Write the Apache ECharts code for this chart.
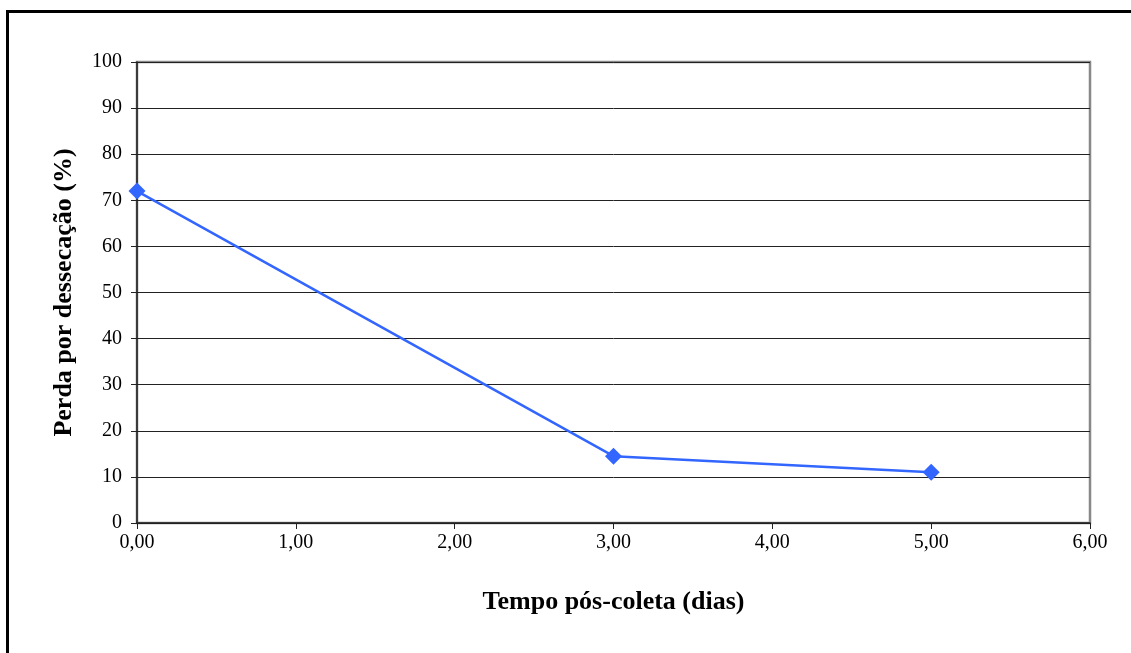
<!DOCTYPE html>
<html>
<head>
<meta charset="utf-8">
<script src="https://cdn.jsdelivr.net/npm/echarts@6/dist/echarts.min.js"></script>
<style>
  html, body { margin: 0; padding: 0; background: #fff; }
  #chart { width: 1131px; height: 653px; }
</style>
</head>
<body>
<div id="chart"></div>
<script>
// Days after collection and drying loss (%)
const days = [0, 3, 5];
const lossPercent = [72, 14.5, 11];
const xTitle = 'Tempo pós-coleta (dias)';
const yTitle = 'Perda por dessecação (%)';

const points = days.map((d, i) => [d, lossPercent[i]]);
const serif = '"Liberation Serif", "DejaVu Serif", serif';

const chart = echarts.init(document.getElementById('chart'), null, { renderer: 'canvas' });
chart.setOption({
  animation: false,
  backgroundColor: '#fff',
  textStyle: { fontFamily: serif },
  graphic: [{
    type: 'rect',
    shape: { x: 7.5, y: 11.5, width: 1140, height: 700 },
    style: { fill: 'none', stroke: '#000', lineWidth: 3 },
    silent: true
  }],
  grid: {
    left: 137, top: 62, right: 41, bottom: 130,
    show: true, borderColor: '#888', borderWidth: 2.5, backgroundColor: 'transparent'
  },
  xAxis: {
    type: 'value', min: 0, max: 6, interval: 1,
    name: xTitle, nameLocation: 'middle', nameGap: 66,
    nameTextStyle: { fontFamily: serif, fontSize: 26, fontWeight: 'bold', color: '#000' },
    axisLine: { show: true, onZero: false, lineStyle: { color: '#222', width: 1.5 } },
    axisTick: { show: true, length: 6, lineStyle: { color: '#222' } },
    axisLabel: {
      margin: 10, fontFamily: serif, fontSize: 20, color: '#000',
      formatter: v => v.toFixed(2).replace('.', ',')
    },
    splitLine: { show: false }
  },
  yAxis: {
    type: 'value', min: 0, max: 100, interval: 10,
    name: yTitle, nameLocation: 'middle', nameGap: 60, nameRotate: 90,
    nameTextStyle: { fontFamily: serif, fontSize: 26, fontWeight: 'bold', color: '#000' },
    axisLine: { show: true, lineStyle: { color: '#222', width: 1.5 } },
    axisTick: { show: true, length: 6, lineStyle: { color: '#222' } },
    axisLabel: { margin: 15, fontFamily: serif, fontSize: 20, color: '#000' },
    splitLine: { show: true, lineStyle: { color: '#222', width: 1 } }
  },
  series: [{
    type: 'line',
    data: points,
    symbol: 'diamond',
    symbolSize: 17,
    lineStyle: { color: '#3366ff', width: 2.5 },
    itemStyle: { color: '#3366ff' }
  }]
});
</script>
</body>
</html>
